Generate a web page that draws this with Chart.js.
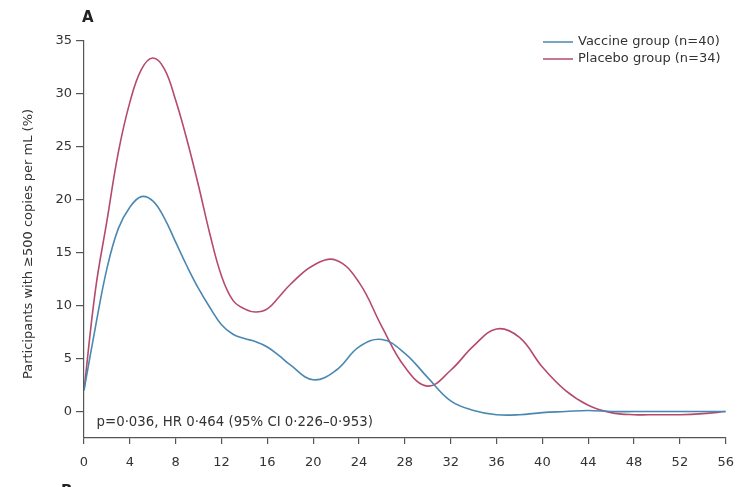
<!DOCTYPE html>
<html>
<head>
<meta charset="utf-8">
<script src="https://cdn.jsdelivr.net/npm/chart.js@4/dist/chart.umd.min.js"></script>
<style>
  html, body { margin: 0; padding: 0; background: #ffffff; }
  #wrap { width: 745px; height: 487px; position: relative; }
</style>
</head>
<body>
<div id="wrap"><canvas id="c" width="745" height="487"></canvas></div>
<script>
// ---- data ----
const weeks = [0,1,2,3,4,5,6,7,8,9,10,11,12,13,14,15,16,17,18,20,22,24,26,28,30,32,34,36,38,40,42,44,46,48,50,52,54,56];
const vaccine = [2,8,13.5,17.3,19.3,20.3,19.9,18.3,16.0,13.7,11.6,9.8,8.2,7.3,6.9,6.6,6.1,5.3,4.4,3.0,3.9,6.1,6.8,5.5,3.2,1.0,0.1,-0.3,-0.3,-0.1,0,0.1,0,0,0,0,0,0];
const placebo = [2,11.5,18,24.5,29.2,32.3,33.4,32.4,29.4,25.6,21.3,16.7,12.8,10.5,9.7,9.4,9.7,10.8,12.0,13.8,14.3,12.2,8.0,4.2,2.4,3.9,6.2,7.8,7.0,4.2,2.0,0.6,-0.1,-0.3,-0.3,-0.3,-0.2,0];
const seriesLabels = ['Vaccine group (n=40)', 'Placebo group (n=34)'];
const xTicks = [0,4,8,12,16,20,24,28,32,36,40,44,48,52,56];
const yTicks = [0,5,10,15,20,25,30,35];
const yTitle = 'Participants with \u2265500 copies per mL (%)';
const statText = 'p=0\u00b7036, HR 0\u00b7464 (95% CI 0\u00b7226\u20130\u00b7953)';
const panelLabel = 'A';
const nextPanelLabel = 'B';

const FONT = '"DejaVu Sans", sans-serif';
const TXT = '#333333';
const AXIS = '#555555';
const BLUE = '#4a88b2';
const RED = '#b64a6c';

const toXY = (xs, ys) => xs.map((x, i) => ({ x: x, y: ys[i] }));

const extras = {
  id: 'extras',
  afterDraw(chart) {
    const ctx = chart.ctx;
    const xs = chart.scales.x, ys = chart.scales.y;
    ctx.save();
    ctx.fillStyle = '#222';
    ctx.font = 'bold 15px ' + FONT;
    ctx.textAlign = 'left';
    ctx.textBaseline = 'middle';
    ctx.fillText(panelLabel, 82, 18);
    ctx.fillText(nextPanelLabel, 61, 492);
    // y-axis title
    ctx.save();
    ctx.font = '13px ' + FONT;
    ctx.fillStyle = TXT;
    ctx.translate(29, 244);
    ctx.rotate(-Math.PI / 2);
    ctx.textAlign = 'center';
    ctx.fillText(yTitle, 0, 0);
    ctx.restore();
    // stat annotation
    ctx.font = '13.3px ' + FONT;
    ctx.fillStyle = TXT;
    ctx.fillText(statText, xs.getPixelForValue(1.1), ys.getPixelForValue(-1.0));
    // legend
    ctx.font = '13px ' + FONT;
    const lx = 543, ly = 42, gap = 17;
    chart.data.datasets.forEach((ds, i) => {
      const y = ly + i * gap;
      ctx.strokeStyle = ds.borderColor;
      ctx.lineWidth = 1.5;
      ctx.beginPath();
      ctx.moveTo(lx, y);
      ctx.lineTo(lx + 30, y);
      ctx.stroke();
      ctx.fillStyle = TXT;
      ctx.fillText(ds.label, lx + 35, y);
    });
    ctx.restore();
  }
};

new Chart(document.getElementById('c'), {
  type: 'line',
  data: {
    datasets: [
      { label: seriesLabels[0], data: toXY(weeks, vaccine), borderColor: BLUE, borderWidth: 1.6,
        pointRadius: 0, tension: 0.4, fill: false },
      { label: seriesLabels[1], data: toXY(weeks, placebo), borderColor: RED, borderWidth: 1.6,
        pointRadius: 0, tension: 0.4, fill: false }
    ]
  },
  options: {
    responsive: false,
    animation: false,
    layout: { padding: { left: 0, right: 18, top: 41, bottom: 0 } },
    plugins: { legend: { display: false }, tooltip: { enabled: false } },
    scales: {
      x: {
        type: 'linear', min: 0, max: 56,
        afterBuildTicks: (axis) => { axis.ticks = xTicks.map(v => ({ value: v })); },
        afterFit: (axis) => { axis.height = 49; },
        border: { display: true, color: AXIS, width: 1.2 },
        grid: { display: true, drawOnChartArea: false, drawTicks: true, tickLength: 6, color: AXIS, lineWidth: 1.2 },
        ticks: { color: TXT, font: { family: FONT, size: 13 }, padding: 11, maxRotation: 0, autoSkip: false }
      },
      y: {
        type: 'linear', min: -2.5, max: 35,
        afterBuildTicks: (axis) => { axis.ticks = yTicks.map(v => ({ value: v })); },
        afterFit: (axis) => { axis.width = 84; },
        border: { display: true, color: AXIS, width: 1.2 },
        grid: { display: true, drawOnChartArea: false, drawTicks: true, tickLength: 8, color: AXIS, lineWidth: 1.2 },
        ticks: { color: TXT, font: { family: FONT, size: 13 }, padding: 4 },
        title: { display: false }
      }
    }
  },
  plugins: [extras]
});
</script>
</body>
</html>
